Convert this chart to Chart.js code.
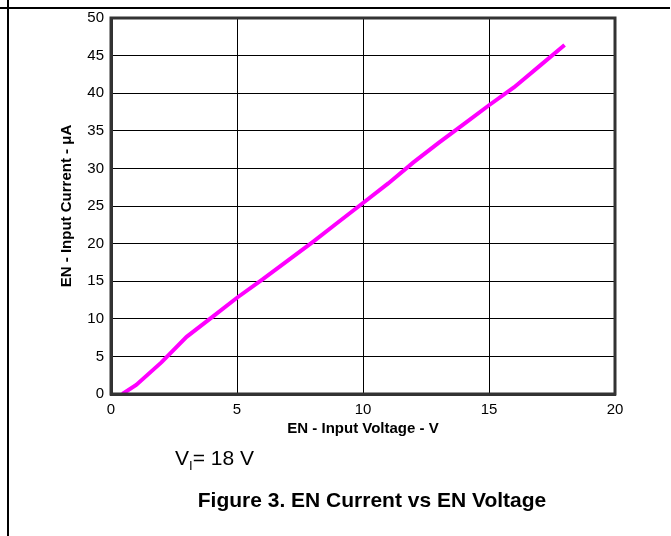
<!DOCTYPE html>
<html>
<head>
<meta charset="utf-8">
<script src="https://cdn.jsdelivr.net/npm/chart.js@4"></script>
<style>
    html, body { margin: 0; padding: 0; background: #fff; }
    #wrap { position: relative; width: 671px; height: 536px; overflow: hidden; font-family: "Liberation Sans", Arial, sans-serif; }
    #myChart { position: absolute; left: 0; top: 0; }
    .hline { position: absolute; left: 0; top: 7px; width: 670px; height: 2px; background: #000; }
    .vline { position: absolute; left: 7px; top: 0; width: 2px; height: 536px; background: #000; }
    .cond { position: absolute; left: 175px; top: 446px; font-size: 21px; color: #000; }
    .cond sub { font-size: 13px; vertical-align: -5px; }
    .caption { position: absolute; left: 0; width: 744px; text-align: center; top: 488px; font-size: 21px; font-weight: bold; color: #000; }
</style>
</head>
<body>
<div id="wrap">
    <canvas id="myChart" width="671" height="536"></canvas>
    <div class="hline"></div>
    <div class="vline"></div>
    <div class="cond">V<sub>I</sub>= 18 V</div>
    <div class="caption">Figure 3. EN Current vs EN Voltage</div>
</div>
<script>
(function () {
    "use strict";

    // EN input voltage (V) vs EN input current (uA)
    const voltage = [0.45, 1, 2, 3, 4, 5, 6, 7, 8, 9, 10, 11, 12, 13, 14, 15, 16, 17, 18];
    const current = [0, 1.2, 4.2, 7.6, 10.2, 12.8, 15.2, 17.7, 20.2, 22.8, 25.4, 28.0, 30.8, 33.4, 35.9, 38.4, 40.8, 43.6, 46.4];

    const xTicks = [0, 5, 10, 15, 20];
    const yTicks = [0, 5, 10, 15, 20, 25, 30, 35, 40, 45, 50];

    const points = voltage.map(function (v, i) {
        return { x: v, y: current[i] };
    });

    // thick dark frame round the plot area
    const frame = {
        id: "frame",
        afterDatasetsDraw: function (chart) {
            const a = chart.chartArea;
            const ctx = chart.ctx;
            ctx.save();
            ctx.strokeStyle = "#333";
            ctx.lineWidth = 3;
            ctx.strokeRect(a.left, a.top, a.right - a.left, a.bottom - a.top);
            ctx.restore();
        }
    };

    const tickFont = { family: "'Liberation Sans', Arial, sans-serif", size: 15 };
    const titleFont = { family: "'Liberation Sans', Arial, sans-serif", size: 15, weight: "bold" };

    new Chart(document.getElementById("myChart"), {
        type: "scatter",
        data: {
            datasets: [
                {
                    data: points,
                    showLine: true,
                    borderColor: "#ff00ff",
                    backgroundColor: "#ff00ff",
                    borderWidth: 4,
                    pointRadius: 0,
                    tension: 0,
                },
            ],
        },
        options: {
            responsive: false,
            animation: false,
            layout: { padding: { left: 58, top: 18, right: 56, bottom: 98 } },
            plugins: {
                legend: { display: false },
                tooltip: { enabled: false },
            },
            scales: {
                x: {
                    type: "linear",
                    min: 0,
                    max: 20,
                    afterBuildTicks: function (axis) {
                        axis.ticks = xTicks.map(function (v) { return { value: v }; });
                    },
                    afterFit: function (axis) { axis.height = 44; },
                    grid: { color: "#000", lineWidth: 1, drawTicks: false },
                    border: { color: "#333", width: 3 },
                    ticks: { color: "#000", font: tickFont, padding: 7, maxRotation: 0 },
                    title: {
                        display: true,
                        text: "EN - Input Voltage - V",
                        color: "#000",
                        font: titleFont,
                        padding: { top: 0, bottom: 0 },
                    },
                },
                y: {
                    type: "linear",
                    min: 0,
                    max: 50,
                    afterBuildTicks: function (axis) {
                        axis.ticks = yTicks.map(function (v) { return { value: v }; });
                    },
                    afterFit: function (axis) { axis.width = 53; },
                    grid: { color: "#000", lineWidth: 1, drawTicks: false },
                    border: { color: "#333", width: 3 },
                    ticks: { color: "#000", font: tickFont, padding: 7 },
                    title: {
                        display: true,
                        text: "EN - Input Current - μA",
                        color: "#000",
                        font: titleFont,
                        padding: 0,
                    },
                },
            },
        },
        plugins: [frame],
    });
})();
</script>
</body>
</html>
